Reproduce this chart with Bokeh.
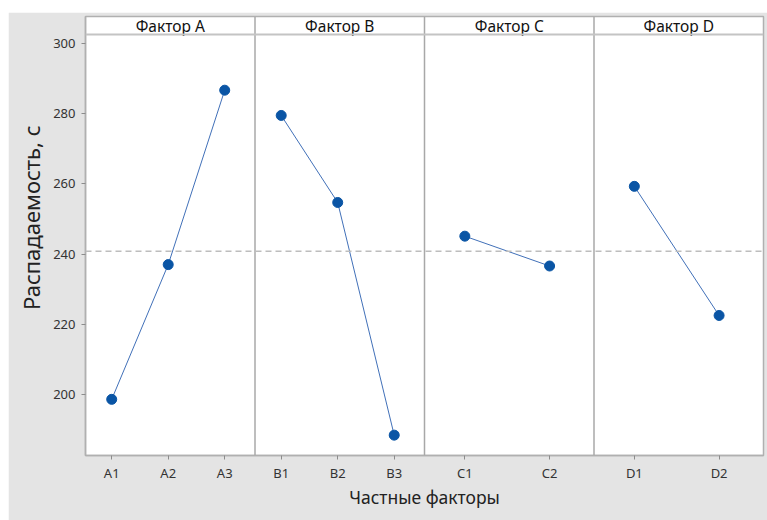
from bokeh.plotting import figure
from bokeh.models import Range1d, FixedTicker, Span, Title, Spacer
from bokeh.layouts import column, row
from bokeh.core.properties import value
from bokeh.embed import file_html
from bokeh.resources import INLINE

FONT = "Noto Sans"

# ---- data ----
factor_titles = ["Фактор A", "Фактор B", "Фактор C", "Фактор D"]
levels_A = ["A1", "A2", "A3"]
levels_B = ["B1", "B2", "B3"]
levels_C = ["C1", "C2"]
levels_D = ["D1", "D2"]
means_A = [198.6, 237.0, 286.7]
means_B = [279.5, 254.7, 188.4]
means_C = [245.1, 236.6]
means_D = [259.3, 222.5]
grand_mean = 240.8
y_ticks = [200, 220, 240, 260, 280, 300]
x_title = "Частные факторы"
y_title = "Распадаемость, с"

levels = [levels_A, levels_B, levels_C, levels_D]
means = [means_A, means_B, means_C, means_D]

# axis limits
y_lo, y_data_top, y_top = 182.6, 302.56, 307.7
X_SHIFT = -0.012  # small left shift of level positions inside each panel

BG = "#e4e4e4"
FRAME = "#b0b0b0"
BLUE = "#0a55a5"
LINE = "#4170b8"

p = figure(width=759, height=508, output_backend="svg", toolbar_location=None,
           x_range=Range1d(0, len(levels)), y_range=Range1d(y_lo, y_top),
           min_border_left=71, min_border_right=4, min_border_top=4,
           min_border_bottom=65)
p.background_fill_color = "white"
p.border_fill_color = BG
p.outline_line_color = FRAME
p.outline_line_width = 1.5
p.grid.visible = False

tick_pos = []
tick_labels = {}
for i, (lv, mv) in enumerate(zip(levels, means)):
    n = len(lv)
    xs = [i + (j + 0.5) / n + X_SHIFT for j in range(n)]
    for x, name in zip(xs, lv):
        tick_pos.append(x)
        tick_labels[x] = name
    p.line(xs, mv, line_color=LINE, line_width=1)
    p.scatter(xs, mv, size=10, fill_color=BLUE, line_color=BLUE)

# panel dividers
for i in range(1, len(levels)):
    p.add_layout(Span(location=i, dimension="height", line_color="#a8a8a8", line_width=1.5))
# header separator
p.add_layout(Span(location=y_data_top, dimension="width", line_color="#c4c4c4", line_width=2))
# grand mean reference
p.add_layout(Span(location=grand_mean, dimension="width", line_color="#bdbdbd",
                  line_dash="6 4", line_width=1.5))

# header titles
header_mid = (y_data_top + y_top) / 2
p.text(x=[i + 0.5 for i in range(len(factor_titles))], y=[header_mid] * len(factor_titles),
       text=factor_titles, text_align="center", text_baseline="middle",
       text_font=value(FONT), text_font_size="15.5px", text_color="#111111")

# axes
p.xaxis.ticker = FixedTicker(ticks=tick_pos)
p.xaxis.major_label_overrides = tick_labels
p.yaxis.ticker = FixedTicker(ticks=y_ticks)
for ax in (p.xaxis, p.yaxis):
    ax.axis_line_color = FRAME
    ax.axis_line_width = 1.5
    ax.major_tick_line_color = "#8c8c8c"
    ax.major_tick_out = 4
    ax.major_tick_in = 0
    ax.minor_tick_line_color = None
    ax.major_label_text_font = FONT
    ax.major_label_text_font_size = "13px"
    ax.major_label_text_color = "#333333"
p.yaxis.major_label_standoff = 6
p.xaxis.major_label_standoff = 4

p.xaxis.axis_label = x_title
p.xaxis.axis_label_text_font = FONT
p.xaxis.axis_label_text_font_size = "17.5px"
p.xaxis.axis_label_text_font_style = "normal"
p.xaxis.axis_label_text_color = "#222222"
p.xaxis.axis_label_standoff = 0

p.add_layout(Title(text=y_title, align="right", offset=109, text_font=FONT,
                   text_font_size="22px", text_font_style="normal",
                   text_color="#222222"), "left")

layout = column(Spacer(width=8, height=12), row(Spacer(width=8, height=508), p))

open("out.html", "w").write(file_html(layout, INLINE))
